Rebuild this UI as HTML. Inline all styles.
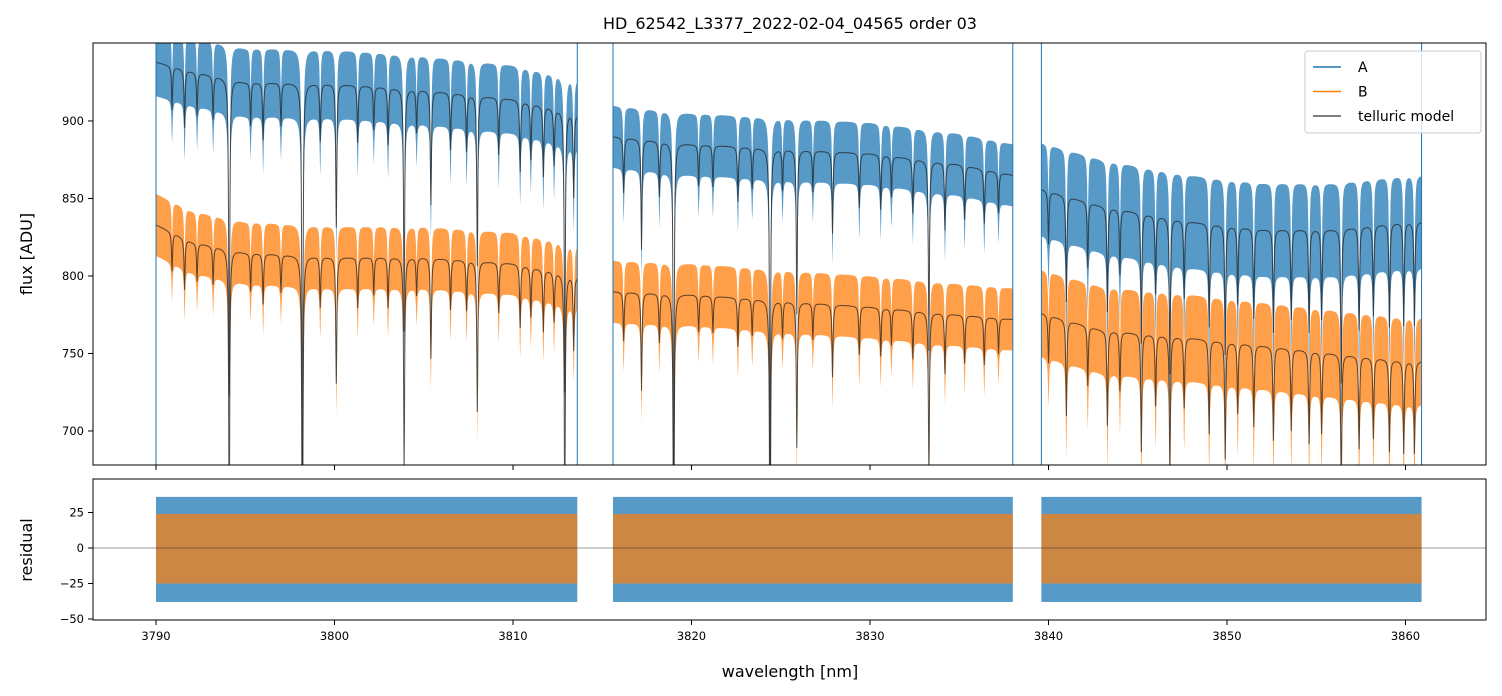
<!DOCTYPE html>
<html><head><meta charset="utf-8"><style>
html,body{margin:0;background:#fff;overflow:hidden;width:1502px;height:696px}
svg{display:block}
svg text{font-family:"DejaVu Sans","Liberation Sans",sans-serif}
</style></head><body>
<svg id="chart" width="1502" height="696" xmlns="http://www.w3.org/2000/svg">
<rect width="1502" height="696" fill="#fff"/>
<text x="790" y="29" font-size="16" text-anchor="middle">HD_62542_L3377_2022-02-04_04565  order 03</text>
<defs>
<clipPath id="cm"><rect x="93" y="43" width="1393" height="422"/></clipPath>
<clipPath id="cr"><rect x="93" y="479" width="1393" height="141"/></clipPath>
</defs>
<g id="main" clip-path="url(#cm)"></g>
<g id="resid" clip-path="url(#cr)"></g>
<g id="axes"></g>
</svg>
<script>
// segments [start, end] in nm
const segStart=[3790.0,3815.6,3839.6];
const segEnd=[3813.6,3838.0,3860.9];
// continuum knots (wavelength) and levels
const contX=[3790,3792,3795,3800,3805,3810,3813.6,3815.6,3820,3825,3830,3835,3838,3839.6,3843,3848,3852,3856,3860,3861];
const contA=[938,932,925,924,920,914,905,890,885,882,879,872,865,856,845,835,830,830,835,835];
const contB=[833,822,815,812,812,808,800,790,788,784,780,775,772,776,765,760,755,750,745,745];
// noise half-widths per segment
const noiseA=[22,20,30];
const noiseB=[20,20,28];
// absorption lines: wavelength and fractional depth
const lineX=[3790.9,3791.6,3792.3,3793.2,3794.1,3795.3,3796.0,3797.0,3798.2,3799.2,3800.1,3801.3,3802.2,3803.0,3803.9,3804.6,3805.4,3806.5,3807.4,3808.0,3809.2,3810.4,3811.0,3811.7,3812.3,3812.9,3813.4,
3816.2,3817.2,3818.2,3819.0,3820.4,3821.2,3822.6,3823.4,3824.4,3825.1,3825.9,3826.8,3827.9,3829.4,3830.6,3831.2,3832.4,3833.3,3834.2,3835.3,3836.4,3837.2,
3840.0,3841.0,3842.2,3843.3,3844.0,3845.2,3846.0,3846.8,3847.6,3849.0,3849.9,3850.6,3851.5,3852.6,3853.6,3854.6,3855.3,3856.4,3857.4,3858.2,3859.1,3859.9,3860.5];
const lineD=[0.03,0.04,0.03,0.03,0.22,0.03,0.04,0.03,0.3,0.04,0.1,0.04,0.03,0.04,0.17,0.03,0.08,0.04,0.04,0.12,0.04,0.05,0.04,0.05,0.04,0.2,0.06,
0.04,0.08,0.04,0.25,0.03,0.03,0.04,0.03,0.25,0.03,0.12,0.03,0.06,0.04,0.04,0.03,0.04,0.14,0.05,0.04,0.04,0.03,
0.04,0.08,0.05,0.08,0.05,0.1,0.06,0.12,0.06,0.08,0.1,0.06,0.07,0.08,0.07,0.08,0.07,0.12,0.08,0.07,0.08,0.08,0.08];
// ticks
const xTicks=[3790,3800,3810,3820,3830,3840,3850,3860];
const yTicks=[700,750,800,850,900];
const rTicks=[25,0,-25,-50];

const NS='http://www.w3.org/2000/svg';
const X=w=>93+(w-3786.47)*17.85;
const Y=v=>43+(950.3-v)*1.55;
const R=v=>479+(48.6-v)*1.42;
function el(tag,attrs,parent){const e=document.createElementNS(NS,tag);for(const k in attrs)e.setAttribute(k,attrs[k]);parent.appendChild(e);return e;}
function interp(x,xs,ys){for(let i=0;i<xs.length-1;i++){if(x<=xs[i+1])return ys[i]+(ys[i+1]-ys[i])*(x-xs[i])/(xs[i+1]-xs[i]);}return ys[ys.length-1];}
function prof(x){let s=0;for(let i=0;i<lineX.length;i++){const d=x-lineX[i],w=0.035;s+=lineD[i]*w*w/(d*d+w*w);}return Math.min(s,0.6);}
const main=document.getElementById('main'),resid=document.getElementById('resid'),axes=document.getElementById('axes');

function band(cont,noise,color,name,k){
 const up=[],lo=[],mod=[];
 for(let x=segStart[k];x<=segEnd[k]+1e-9;x+=0.02){
  const c=interp(x,contX,cont),m=c*(1-prof(x));
  mod.push(X(x).toFixed(1)+','+Y(m).toFixed(1));
  up.push(X(x).toFixed(1)+','+Y(m+noise[k]).toFixed(1));
  lo.unshift(X(x).toFixed(1)+','+Y(m-noise[k]).toFixed(1));
 }
 const p=el('polygon',{points:up.concat(lo).join(' '),fill:color,'fill-opacity':0.75},main);
 
 
 return mod;
}
for(let k=0;k<3;k++){
 const mA=band(contA,noiseA,'#1f77b4','series-a',k);
 const mB=band(contB,noiseB,'#ff7f0e','series-b',k);
 for(const [m,n] of [[mA,'model-a'],[mB,'model-b']]){
  const l=el('polyline',{points:m.join(' '),fill:'none',stroke:'#222','stroke-opacity':0.75,'stroke-width':1},main);
  
  
 }
 for(const w of [segStart[k],segEnd[k]]){
  const s=el('line',{x1:X(w),x2:X(w),y1:43,y2:465,stroke:'#1f77b4','stroke-width':1},main);
  
  
 }
 const rb=el('rect',{x:X(segStart[k]),width:X(segEnd[k])-X(segStart[k]),y:R(36),height:R(-38)-R(36),fill:'#1f77b4','fill-opacity':0.75},resid);
 
 
 const ro=el('rect',{x:X(segStart[k]),width:X(segEnd[k])-X(segStart[k]),y:R(24),height:R(-25)-R(24),fill:'#ff7f0e','fill-opacity':0.7},resid);
 
 
}
const zl=el('line',{x1:93,x2:1486,y1:R(0),y2:R(0),stroke:'#333','stroke-width':0.6},resid);



const f1=el('rect',{x:93,y:43,width:1393,height:422,fill:'none',stroke:'#000','stroke-width':1},axes);

const f2=el('rect',{x:93,y:479,width:1393,height:141,fill:'none',stroke:'#000','stroke-width':1},axes);

for(const t of xTicks){
 el('line',{x1:X(t),x2:X(t),y1:465,y2:470,stroke:'#000'},axes);
 el('line',{x1:X(t),x2:X(t),y1:620,y2:625,stroke:'#000'},axes);
 const tx=el('text',{x:X(t),y:640,'font-size':11.5,'text-anchor':'middle'},axes);tx.textContent=t;
 
}
for(const t of yTicks){
 el('line',{x1:88,x2:93,y1:Y(t),y2:Y(t),stroke:'#000'},axes);
 const tx=el('text',{x:84,y:Y(t)+4,'font-size':11.5,'text-anchor':'end'},axes);tx.textContent=t;
 
}
for(const t of rTicks){
 el('line',{x1:88,x2:93,y1:R(t),y2:R(t),stroke:'#000'},axes);
 const tx=el('text',{x:84,y:R(t)+4,'font-size':11.5,'text-anchor':'end'},axes);tx.textContent=(t<0?'\u2212'+(-t):t);
 
}
let t=el('text',{x:790,y:677,'font-size':16,'text-anchor':'middle'},axes);t.textContent='wavelength [nm]';

t=el('text',{x:32,y:254,'font-size':16,'text-anchor':'middle',transform:'rotate(-90 32 254)'},axes);t.textContent='flux [ADU]';

t=el('text',{x:32,y:550,'font-size':16,'text-anchor':'middle',transform:'rotate(-90 32 550)'},axes);t.textContent='residual';

const lg=el('rect',{x:1305,y:51,width:176,height:82,rx:3,fill:'#fff','fill-opacity':0.8,stroke:'#ccc'},axes);

const items=[['A','#1f77b4'],['B','#ff7f0e'],['telluric model','#555']];
items.forEach((it,i)=>{
 const y=67+i*24.5;
 const l=el('line',{x1:1313,x2:1341,y1:y,y2:y,stroke:it[1],'stroke-width':1.5},axes);
 
 const tx=el('text',{x:1358,y:y+5,'font-size':14},axes);tx.textContent=it[0];
 
});
</script>
</body></html>
